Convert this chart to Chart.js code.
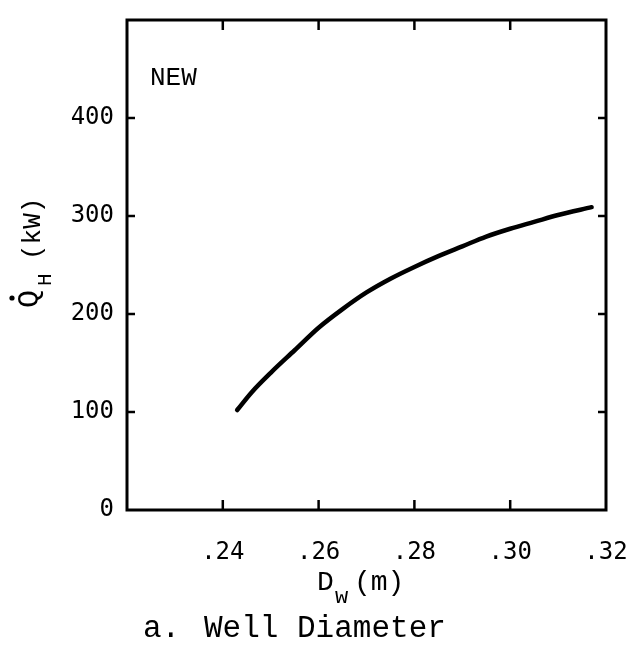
<!DOCTYPE html>
<html>
<head>
<meta charset="utf-8">
<script src="https://cdn.jsdelivr.net/npm/chart.js@4.4.0/dist/chart.umd.min.js"></script>
<style>
html,body{margin:0;padding:0;background:#fff;}
#wrap{width:632px;height:647px;position:relative;}
</style>
</head>
<body>
<div id="wrap"><canvas id="c" width="632" height="647"></canvas></div>
<script>
// Data
const diameter = [0.243, 0.246, 0.250, 0.255, 0.260, 0.265, 0.270, 0.275, 0.280, 0.285, 0.290, 0.295, 0.300, 0.305, 0.310, 0.317];
const heatKW   = [102,   120,   140,   163,   186,   205,   222,   236,   248,   259,   269,   279,   287,   294,   301,   309];
const xTickValues = [0.24, 0.26, 0.28, 0.30, 0.32];
const yTickValues = [0, 100, 200, 300, 400];
const panelLabel = "NEW";
const xTitleMain = "D";
const xTitleSub = "w";
const xTitleUnit = "(m)";
const yTitleMain = "Q";
const yTitleSub = "H";
const yTitleUnit = "(kW)";
const captionLetter = "a.";
const captionText = "Well Diameter";

const PLOT_LEFT = 127, PLOT_RIGHT = 606, PLOT_TOP = 20, PLOT_BOTTOM = 510;

const frameAndDecor = {
  id: 'frameAndDecor',
  afterDatasetsDraw(chart) {
    const ctx = chart.ctx;
    const a = chart.chartArea;
    const xs = chart.scales.x, ys = chart.scales.y;
    ctx.save();
    ctx.strokeStyle = '#000';
    ctx.lineWidth = 3;
    ctx.strokeRect(a.left, a.top, a.right - a.left, a.bottom - a.top);
    // inward ticks
    ctx.lineWidth = 2.5;
    xTickValues.forEach(v => {
      const px = xs.getPixelForValue(v);
      if (px >= a.right - 2) return;
      ctx.beginPath(); ctx.moveTo(px, a.bottom); ctx.lineTo(px, a.bottom - 10); ctx.stroke();
      ctx.beginPath(); ctx.moveTo(px, a.top); ctx.lineTo(px, a.top + 10); ctx.stroke();
    });
    yTickValues.forEach(v => {
      if (v === 0) return;
      const py = ys.getPixelForValue(v);
      ctx.beginPath(); ctx.moveTo(a.left, py); ctx.lineTo(a.left + 8, py); ctx.stroke();
      ctx.beginPath(); ctx.moveTo(a.right, py); ctx.lineTo(a.right - 8, py); ctx.stroke();
    });
    // panel label
    ctx.fillStyle = '#000';
    ctx.font = '26px "Liberation Mono"';
    ctx.textBaseline = 'alphabetic';
    ctx.textAlign = 'left';
    ctx.fillText(panelLabel, a.left + 23, a.top + 65);
    // x title
    const base = 590;
    ctx.font = '28px "Liberation Mono"';
    ctx.fillText(xTitleMain, 317, base);
    ctx.font = '22px "Liberation Mono"';
    ctx.fillText(xTitleSub, 335, base + 13);
    ctx.font = '28px "Liberation Mono"';
    ctx.fillText(xTitleUnit, 354, base);
    // caption
    ctx.font = '31px "Liberation Mono"';
    ctx.fillText(captionLetter, 143, 637);
    ctx.fillText(captionText, 204, 637);
    // y title (rotated)
    ctx.translate(38, 308);
    ctx.rotate(-Math.PI / 2);
    ctx.font = '30px "Liberation Mono"';
    ctx.fillText(yTitleMain, 0, 0);
    ctx.beginPath(); ctx.arc(10, -26, 2.6, 0, Math.PI * 2); ctx.fill();
    ctx.font = '21px "Liberation Mono"';
    ctx.fillText(yTitleSub, 22, 13);
    ctx.font = '26px "Liberation Mono"';
    ctx.fillText(yTitleUnit, 48, 2);
    ctx.restore();
  }
};

new Chart(document.getElementById('c'), {
  type: 'line',
  data: {
    datasets: [{
      data: diameter.map((d, i) => ({ x: d, y: heatKW[i] })),
      borderColor: '#000',
      borderWidth: 4.5,
      pointRadius: 0,
      cubicInterpolationMode: 'monotone',
      fill: false,
      borderCapStyle: 'round'
    }]
  },
  options: {
    responsive: false,
    animation: false,
    devicePixelRatio: 1,
    layout: { padding: { left: 0, right: 632 - PLOT_RIGHT, top: PLOT_TOP, bottom: 0 } },
    plugins: { legend: { display: false }, tooltip: { enabled: false } },
    scales: {
      x: {
        type: 'linear',
        min: 0.22, max: 0.32,
        afterFit(s) { s.height = 647 - PLOT_BOTTOM; s.paddingLeft = 0; s.paddingRight = 0; },
        afterBuildTicks(s) { s.ticks = xTickValues.map(v => ({ value: v })); },
        border: { display: false },
        grid: { display: false, drawTicks: false },
        ticks: {
          padding: 28,
          color: '#000',
          font: { family: '"DejaVu Sans Mono"', size: 24 },
          maxRotation: 0,
          autoSkip: false,
          callback: v => v.toFixed(2).replace(/^0/, '')
        }
      },
      y: {
        type: 'linear',
        min: 0, max: 500,
        afterFit(s) { s.width = PLOT_LEFT; s.paddingTop = 0; s.paddingBottom = 0; },
        afterBuildTicks(s) { s.ticks = yTickValues.map(v => ({ value: v })); },
        border: { display: false },
        grid: { display: false, drawTicks: false },
        ticks: {
          padding: 13,
          color: '#000',
          font: { family: '"DejaVu Sans Mono"', size: 24 },
          callback: v => String(v)
        }
      }
    }
  },
  plugins: [frameAndDecor]
});
</script>
</body>
</html>
